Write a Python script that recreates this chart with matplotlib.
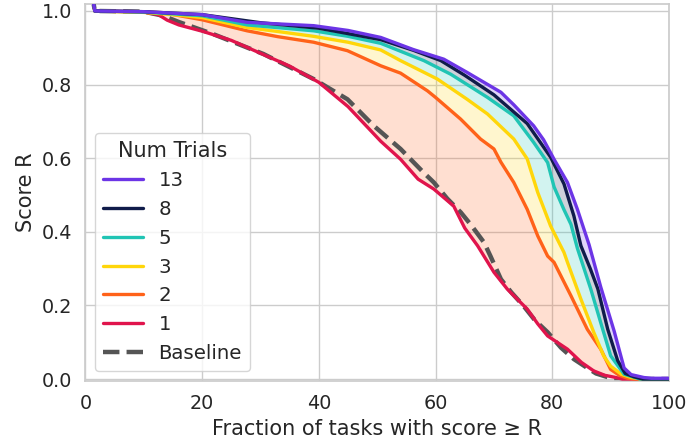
import matplotlib

matplotlib.use("Agg")

import matplotlib.pyplot as plt
import numpy as np
import seaborn as sns

# ---------------------------------------------------------------------------
# Data: x = % of tasks, y = score R
# ---------------------------------------------------------------------------

x_13 = [0, 1.3, 1.6, 10, 20, 27.7, 39.1, 45, 50.6, 56.2, 61.4, 65.4, 71.2, 73.4, 76.8, 78.5,
        80.3, 82.6, 84.3, 86.3, 88.3, 90.6, 92.3, 93.5, 95.7, 97, 100]
y_13 = [1.03, 1.03, 1.0, 0.998, 0.99, 0.969, 0.96, 0.947, 0.928, 0.895, 0.869, 0.833, 0.779,
        0.745, 0.688, 0.65, 0.597, 0.534, 0.461, 0.365, 0.25, 0.13, 0.03, 0.012, 0.004,
        0.002, 0.002]

x_8 = [0, 1.3, 1.6, 10, 20, 30, 40, 50.6, 56.2, 60.9, 65, 70, 75.7, 79.7, 82, 83.7, 84.9,
       86.5, 87.8, 89.5, 91.2, 92.5, 94, 95.5, 100]
y_8 = [1.03, 1.03, 1.0, 0.998, 0.99, 0.968, 0.953, 0.922, 0.893, 0.865, 0.825, 0.772, 0.694,
       0.603, 0.53, 0.443, 0.362, 0.3, 0.245, 0.135, 0.05, 0.015, 0.006, 0.0, 0.0]

x_5 = [0, 1.3, 1.6, 10, 20, 27.7, 39.1, 45, 50.6, 58, 62.6, 68.9, 73.4, 76.8, 79.2, 80.3,
       82, 83.2, 84.3, 86.6, 88.3, 90, 92.3, 95, 100]
y_5 = [1.03, 1.03, 1.0, 0.997, 0.987, 0.962, 0.946, 0.931, 0.912, 0.865, 0.828, 0.765, 0.715,
       0.643, 0.588, 0.522, 0.46, 0.42, 0.355, 0.244, 0.153, 0.063, 0.013, 0.0, 0.0]

x_3 = [0, 1.3, 1.6, 10, 15, 20, 27.7, 33, 39.1, 45, 50.6, 54, 60.3, 65.4, 68.9, 73.4, 75.7,
       77.5, 79.7, 82, 82.6, 84.9, 87.1, 88.8, 90, 91.8, 93.5, 95.2, 100]
y_3 = [1.03, 1.03, 1.0, 0.996, 0.99, 0.982, 0.955, 0.944, 0.931, 0.915, 0.894, 0.865, 0.815,
       0.76, 0.72, 0.652, 0.598, 0.507, 0.416, 0.344, 0.317, 0.217, 0.127, 0.063, 0.035,
       0.013, 0.004, 0.0, 0.0]

x_2 = [0, 1.3, 1.6, 10, 13.3, 20, 27.7, 33, 39.1, 44.9, 50.6, 54, 58.6, 60, 64.3, 67.7, 70,
       71.2, 73.4, 75.7, 77.5, 79.2, 80.3, 83.2, 86, 88.3, 90, 91.5, 92.9, 94, 100]
y_2 = [1.03, 1.03, 1.0, 0.997, 0.995, 0.976, 0.946, 0.93, 0.915, 0.892, 0.851, 0.831, 0.783,
       0.765, 0.706, 0.652, 0.625, 0.589, 0.534, 0.461, 0.389, 0.334, 0.317, 0.226, 0.135,
       0.081, 0.026, 0.01, 0.002, 0.0, 0.0]

x_1 = [0, 1.3, 1.6, 10, 12.5, 14, 16, 20, 25, 30, 35, 40, 45, 50.6, 54, 57, 59.7, 63.1,
       65, 67.2, 70, 72.3, 75.7, 77.5, 79.2, 82.6, 85, 87.1, 89, 90.6, 92, 100]
y_1 = [1.03, 1.03, 1.0, 0.997, 0.99, 0.975, 0.962, 0.945, 0.92, 0.885, 0.85, 0.806, 0.74,
       0.646, 0.597, 0.543, 0.516, 0.47, 0.41, 0.362, 0.29, 0.244, 0.19, 0.15, 0.117, 0.081,
       0.045, 0.022, 0.01, 0.005, 0.0, 0.0]

x_base = [0, 1.3, 1.6, 10, 13.3, 16, 21.9, 30.5, 39.1, 44.9, 49.4, 54, 58, 59.7, 62, 64.3,
          66, 68.3, 69.4, 71.2, 73, 75.1, 77, 79.2, 81.5, 83.7, 86, 87.5, 89.5, 91, 100]
y_base = [1.03, 1.03, 1.0, 0.998, 0.987, 0.97, 0.937, 0.883, 0.815, 0.76, 0.688, 0.625, 0.56,
          0.534, 0.49, 0.453, 0.42, 0.371, 0.334, 0.271, 0.235, 0.198, 0.16, 0.127, 0.085,
          0.054, 0.03, 0.015, 0.005, 0.0, 0.0]

trial_labels = ["13", "8", "5", "3", "2", "1"]
trial_x = [x_13, x_8, x_5, x_3, x_2, x_1]
trial_y = [y_13, y_8, y_5, y_3, y_2, y_1]
trial_colors = ["#6c35e6", "#101c4a", "#20c4b4", "#ffd60a", "#ff6219", "#e0144c"]

sns.set_theme(style="whitegrid", font_scale=1.25)
plt.rcParams["font.family"] = ["DejaVu Sans"]

fig, ax = plt.subplots(figsize=(6.89, 4.47), dpi=100)
fig.subplots_adjust(left=0.124, right=0.971, bottom=0.148, top=0.992)

# Shaded bands between each curve and the next-lower one
for i in range(len(trial_x) - 1):
    xu, yu = np.array(trial_x[i]), np.array(trial_y[i])
    xl, yl = np.array(trial_x[i + 1]), np.array(trial_y[i + 1])
    ax.fill(np.concatenate([xu, xl[::-1]]), np.concatenate([yu, yl[::-1]]),
            color=trial_colors[i], alpha=0.2, linewidth=0, zorder=1)

(base_line,) = ax.plot(x_base, y_base, color="#555555", linestyle="--", linewidth=3.2,
                       zorder=2, label="Baseline")

handles = {}
for lab, xs, ys, col in reversed(list(zip(trial_labels, trial_x, trial_y, trial_colors))):
    (h,) = ax.plot(xs, ys, color=col, linewidth=2.4, zorder=3, label=lab)
    handles[lab] = h

ax.set_xlim(0, 100)
ax.set_ylim(-0.005, 1.02)
ax.set_xticks([0, 20, 40, 60, 80, 100])
ax.set_yticks([0.0, 0.2, 0.4, 0.6, 0.8, 1.0])
ax.set_xlabel("Fraction of tasks with score ≥ R")
ax.set_ylabel("Score R")

ax.legend([handles[l] for l in trial_labels] + [base_line], trial_labels + ["Baseline"],
          title="Num Trials", loc="lower left", fontsize=14.2, title_fontsize=15)

fig.savefig("out.png", dpi=100)
